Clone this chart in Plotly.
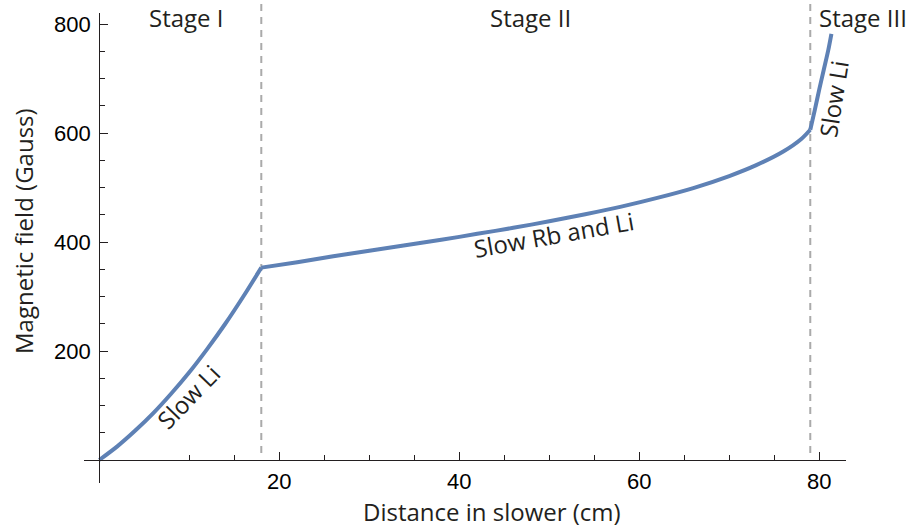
import plotly.graph_objects as go

# ---- data ----
stage1_x = [0, 2, 4, 6, 8, 10, 12, 14, 16, 18]
stage1_y = [0, 25, 54, 86, 122, 161, 204, 250, 300, 353]

stage2_x = [18, 22, 26, 30, 34, 38, 42, 46, 50, 54, 58, 62, 66, 70, 73, 76, 78, 79]
stage2_y = [353, 363, 374, 384, 394, 404, 415, 426, 438, 451, 465, 481, 499, 521, 541, 566, 589, 606]

stage3_x = [79, 79.5, 80, 80.5, 81, 81.35]
stage3_y = [606, 642, 680, 716, 752, 782]

stage_bounds = [18, 79]
stage_names = ["Stage I", "Stage II", "Stage III"]

x_major = [20, 40, 60, 80]
x_minor = [10, 15, 25, 30, 35, 45, 50, 55, 65, 70, 75]
y_major = [200, 400, 600, 800]
y_minor = [50, 100, 150, 250, 300, 350, 450, 500, 550, 650, 700, 750]

x_range = [-1.7, 82.97]
y_range = [-42.2, 820.2]

LINE_COLOR = "#5E81B5"
TXT_FONT = "Open Sans"
TICK_FONT = "Liberation Sans"
INK = "#231f20"

fig = go.Figure()
for xs, ys in [(stage1_x, stage1_y), (stage2_x, stage2_y), (stage3_x, stage3_y)]:
    fig.add_trace(go.Scatter(x=xs, y=ys, mode="lines",
                             line=dict(color=LINE_COLOR, width=4, shape="spline", smoothing=0.8),
                             cliponaxis=False, hoverinfo="skip", showlegend=False))

for b in stage_bounds:
    fig.add_shape(type="line", xref="x", yref="paper", x0=b, x1=b, y0=0.064, y1=1.028,
                  line=dict(color="#aaaaaa", width=2, dash="7px,6px"), layer="below")

xpos = (0 - y_range[0]) / (y_range[1] - y_range[0])
ypos = (0 - x_range[0]) / (x_range[1] - x_range[0])

fig.update_layout(
    width=909, height=529,
    margin=dict(l=84, r=63, t=13, b=46),
    plot_bgcolor="white", paper_bgcolor="white",
    hovermode=False,
    xaxis=dict(range=x_range, anchor="free", position=xpos, showgrid=False, zeroline=False,
               showline=True, linecolor=INK, linewidth=1.2,
               tickmode="array", tickvals=x_major, ticks="inside", ticklen=8, tickwidth=1.2,
               tickcolor=INK, ticklabelstandoff=1,
               tickfont=dict(family=TICK_FONT, size=22, color="black"),
               minor=dict(tickmode="array", tickvals=x_minor, ticks="inside", ticklen=5,
                          tickwidth=1.2, tickcolor=INK)),
    yaxis=dict(range=y_range, anchor="free", position=ypos, showgrid=False, zeroline=False,
               showline=True, linecolor=INK, linewidth=1.2,
               tickmode="array", tickvals=y_major, ticks="inside", ticklen=8, tickwidth=1.2,
               tickcolor=INK, ticklabelstandoff=4,
               tickfont=dict(family=TICK_FONT, size=22, color="black"),
               minor=dict(tickmode="array", tickvals=y_minor, ticks="inside", ticklen=5,
                          tickwidth=1.2, tickcolor=INK)),
)

tf = dict(family=TXT_FONT, size=24, color=INK)
# stage labels
for name, px in zip(stage_names, [186.7, 530.3, 863]):
    fig.add_annotation(text=name, xref="paper", yref="paper",
                       x=(px - 84) / 762, y=(483 - 17) / 470,
                       xanchor="center", yanchor="middle", showarrow=False, font=tf)

# curve labels
fig.add_annotation(text="Slow Li", x=9.9, y=116, textangle=-46, showarrow=False, font=tf)
fig.add_annotation(text="Slow Rb and Li", x=50.5, y=413, textangle=-10, showarrow=False, font=tf)
fig.add_annotation(text="Slow Li", x=81.6, y=663, textangle=-81, showarrow=False, font=tf)

# axis titles
fig.add_annotation(text="Distance in slower (cm)", xref="paper", yref="paper",
                   x=(491.5 - 84) / 762, y=(483 - 511) / 470, xanchor="center", yanchor="middle",
                   showarrow=False, font=tf)
fig.add_annotation(text="Magnetic field (Gauss)", xref="paper", yref="paper",
                   x=(23 - 84) / 762, y=(483 - 231) / 470, xanchor="center", yanchor="middle",
                   textangle=-90, showarrow=False, font=tf)

fig.write_html("out.html")
